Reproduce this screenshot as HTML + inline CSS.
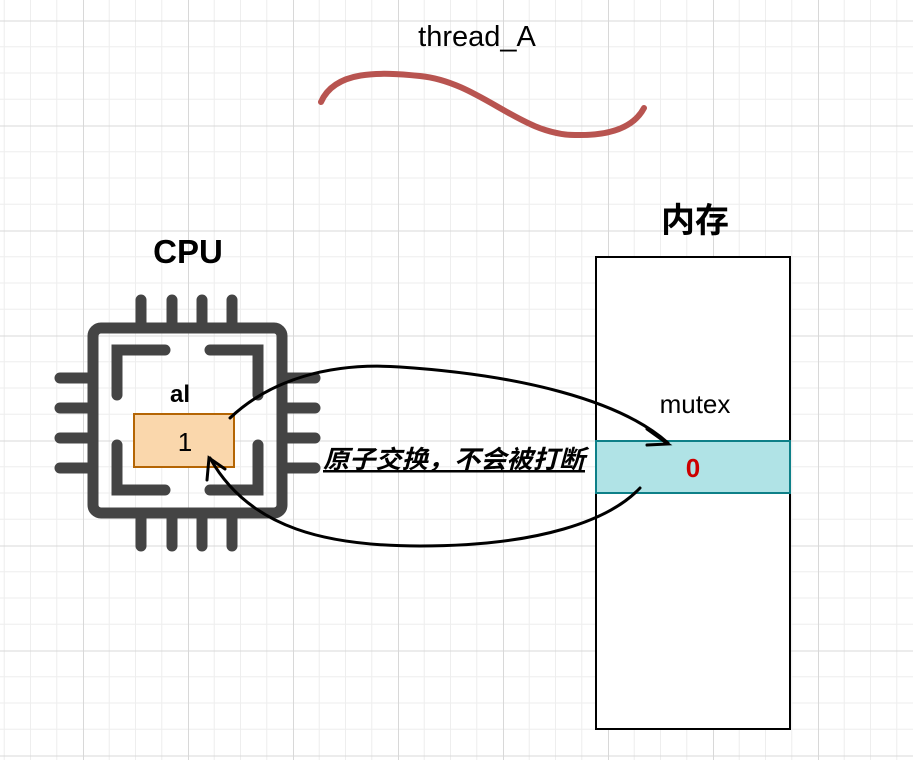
<!DOCTYPE html>
<html><head><meta charset="utf-8"><style>
html,body{margin:0;padding:0;background:#fff}
svg{display:block}
text{font-family:"Liberation Sans","Noto Sans CJK SC",sans-serif}
</style></head><body>
<svg width="913" height="760" viewBox="0 0 913 760" xmlns="http://www.w3.org/2000/svg">
<defs>
<pattern id="g" x="-22" y="20.5" width="105" height="105" patternUnits="userSpaceOnUse">
<path d="M26.25 0V105M52.5 0V105M78.75 0V105M0 26.25H105M0 52.5H105M0 78.75H105" stroke="#eeeeee" stroke-width="1" fill="none"/>
<path d="M0.5 0V105M0 0.5H105" stroke="#d8d8d8" stroke-width="1" fill="none"/>
</pattern>
</defs>
<rect width="913" height="760" fill="url(#g)"/>
<text x="477" y="46" font-size="29" text-anchor="middle">thread_A</text>
<path d="M321 102 C335 70 380 72 420 76 C480 82 520 135 575 135 C615 136 635 125 644 108" stroke="#b85450" stroke-width="6" fill="none" stroke-linecap="round"/>
<text x="188" y="263" font-size="33" font-weight="bold" text-anchor="middle">CPU</text>
<g stroke="#444" stroke-width="11" stroke-linecap="round" fill="none">
<rect x="93" y="328" width="189" height="185" rx="8"/>
<path d="M141 300V326M172 300V326M202 300V326M232 300V326M141 516V546M172 516V546M202 516V546M232 516V546"/>
<path d="M60 378H90M60 408H90M60 438H90M60 468H90M285 378H315M285 408H315M285 438H315M285 468H315"/>
<path d="M117 395V350H165M210 350H258V395M117 445V490H165M210 490H258V445"/>
</g>
<text x="180" y="402" font-size="24" font-weight="bold" text-anchor="middle">al</text>
<rect x="134" y="414" width="100" height="53" fill="#fad7ac" stroke="#b46504" stroke-width="2"/>
<text x="185" y="451" font-size="26" text-anchor="middle">1</text>
<text x="695" y="232" font-size="34" font-weight="bold" text-anchor="middle">内存</text>
<rect x="596" y="257" width="194" height="472" fill="#fff" stroke="#000" stroke-width="2"/>
<text x="695" y="413" font-size="26" text-anchor="middle">mutex</text>
<rect x="596" y="441" width="194" height="52" fill="#b0e3e6" stroke="#0e8088" stroke-width="2"/>
<text x="693" y="477" font-size="26" font-weight="bold" fill="#cc0000" text-anchor="middle">0</text>
<g stroke="#000" stroke-width="3" fill="none" stroke-linecap="round">
<path d="M230 418 C270 380 330 362 400 367 C520 375 620 400 668 443"/>
<path d="M647 429L668 444L647 445"/>
<path d="M640 488 C610 520 540 546 420 546 C330 546 250 530 210 458"/>
<path d="M207 480L209 458L225 469"/>
</g>
<text x="323" y="468" font-size="25" font-weight="bold" font-style="italic" text-decoration="underline" textLength="262" lengthAdjust="spacingAndGlyphs">原子交换，不会被打断</text>
</svg>
</body></html>
